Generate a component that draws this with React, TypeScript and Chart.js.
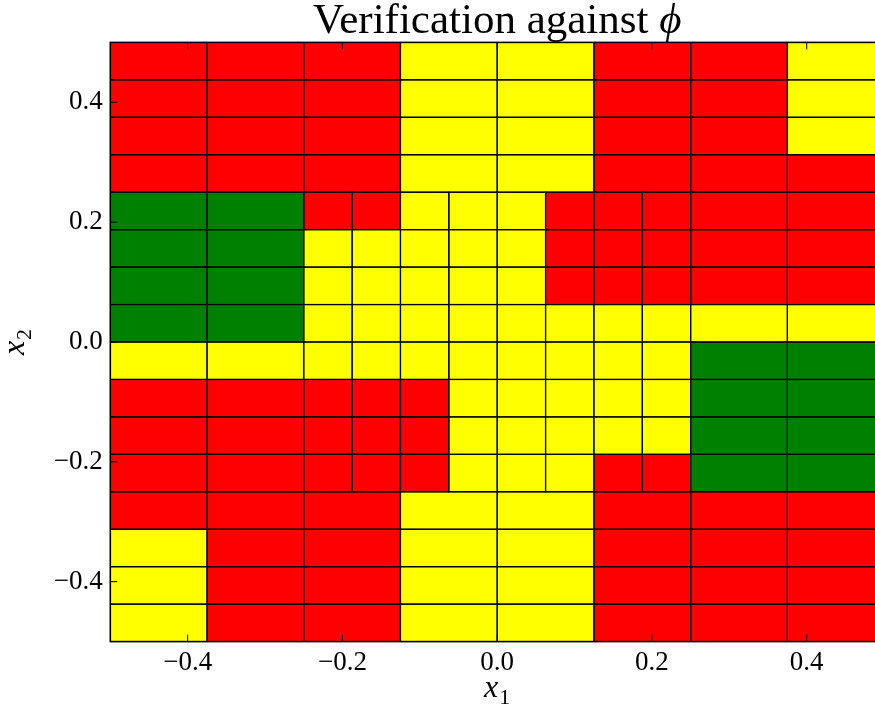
import { useEffect, useRef } from 'react';
import { Chart, registerables } from 'chart.js';

Chart.register(...registerables);

// Domain of the verification grid
const X_MIN = -0.5;
const X_MAX = 0.5;
const Y_MIN = -0.5;
const Y_MAX = 0.5;
const TICK_VALUES = [-0.4, -0.2, 0.0, 0.2, 0.4];

const TITLE_TEXT = 'Verification against ';
const TITLE_SYMBOL = '\u03D5';
const X_LABEL = ['x', '1'];
const Y_LABEL = ['x', '2'];

// Rows of the partition, from x2 = 0.5 down to x2 = -0.5; each row is 1/16 tall.
// Upper-case letters are cells 1/8 wide, lower-case letters are cells 1/16 wide.
// R = property violated, Y = undecided, G = verified.
const ROW_PATTERNS = [
  'RRRYYRRY',
  'RRRYYRRY',
  'RRRYYRRY',
  'RRRYYRRR',
  'GGrryyyrrrRR',
  'GGyyyyyrrrRR',
  'GGyyyyyrrrRR',
  'GGyyyyyyyyYY',
  'YYyyyyyyyyGG',
  'RRrrryyyyyGG',
  'RRrrryyyyyGG',
  'RRrrryyyrrGG',
  'RRRYYRRR',
  'YRRYYRRR',
  'YRRYYRRR',
  'YRRYYRRR',
];
const WIDE_CELL = 1 / 8;
const NARROW_CELL = 1 / 16;
const ROW_HEIGHT = 1 / 16;
const CELL_COLORS: Record<string, string> = { R: '#ff0000', Y: '#ffff00', G: '#008000' };

type Cell = { x0: number; x1: number; y0: number; y1: number; color: string };

function buildCells(): Cell[] {
  const cells: Cell[] = [];
  ROW_PATTERNS.forEach((row, i) => {
    const y1 = Y_MAX - i * ROW_HEIGHT;
    const y0 = y1 - ROW_HEIGHT;
    let x = X_MIN;
    for (const ch of row) {
      const w = ch === ch.toUpperCase() ? WIDE_CELL : NARROW_CELL;
      cells.push({ x0: x, x1: x + w, y0, y1, color: CELL_COLORS[ch.toUpperCase()] });
      x += w;
    }
  });
  return cells;
}

const SERIF = '"Liberation Serif", "Times New Roman", serif';
const TICK_FONT_SIZE = 27;
const TITLE_FONT_SIZE = 43;

const fmtTick = (v: number | string) => {
  const n = Number(v);
  const s = Math.abs(n).toFixed(1);
  return n < -1e-9 ? '\u2212' + s : s;
};

const gridPlugin = {
  id: 'verificationGrid',
  beforeDatasetsDraw(chart: any) {
    const { ctx, chartArea, scales } = chart;
    const xs = scales.x;
    const ys = scales.y;
    const cells = buildCells();
    ctx.save();
    ctx.beginPath();
    ctx.rect(chartArea.left, chartArea.top, chartArea.right - chartArea.left, chartArea.bottom - chartArea.top);
    ctx.clip();
    const rects = cells.map((c) => {
      const l = xs.getPixelForValue(c.x0);
      const r = xs.getPixelForValue(c.x1);
      const t = ys.getPixelForValue(c.y1);
      const b = ys.getPixelForValue(c.y0);
      return { l, r, t, b, color: c.color };
    });
    for (const q of rects) {
      ctx.fillStyle = q.color;
      ctx.fillRect(q.l, q.t, q.r - q.l, q.b - q.t);
    }
    ctx.strokeStyle = '#000';
    ctx.lineWidth = 1.2;
    for (const q of rects) {
      ctx.strokeRect(q.l, q.t, q.r - q.l, q.b - q.t);
    }
    ctx.restore();
  },
  afterDatasetsDraw(chart: any) {
    const { ctx, chartArea, scales } = chart;
    const { left, right, top, bottom } = chartArea;
    const tickLen = 7;
    ctx.save();
    ctx.strokeStyle = '#000';
    ctx.lineWidth = 1;
    ctx.beginPath();
    for (const v of TICK_VALUES) {
      const px = scales.x.getPixelForValue(v);
      ctx.moveTo(px, bottom);
      ctx.lineTo(px, bottom - tickLen);
      ctx.moveTo(px, top);
      ctx.lineTo(px, top + tickLen);
      const py = scales.y.getPixelForValue(v);
      ctx.moveTo(left, py);
      ctx.lineTo(left + tickLen, py);
      ctx.moveTo(right, py);
      ctx.lineTo(right - tickLen, py);
    }
    ctx.stroke();
    ctx.lineWidth = 1.6;
    ctx.strokeRect(left, top, right - left, bottom - top);
    ctx.restore();
  },
  afterDraw(chart: any) {
    const { ctx, chartArea } = chart;
    const cx = (chartArea.left + chartArea.right) / 2;
    ctx.save();
    ctx.fillStyle = '#000';
    ctx.textBaseline = 'alphabetic';
    ctx.textAlign = 'left';

    // Title: plain text followed by an italic symbol
    ctx.font = `${TITLE_FONT_SIZE}px ${SERIF}`;
    const w1 = ctx.measureText(TITLE_TEXT).width;
    ctx.font = `italic ${TITLE_FONT_SIZE}px ${SERIF}`;
    const w2 = ctx.measureText(TITLE_SYMBOL).width;
    const tx = cx - (w1 + w2) / 2;
    ctx.font = `${TITLE_FONT_SIZE}px ${SERIF}`;
    ctx.fillText(TITLE_TEXT, tx, 33);
    ctx.font = `italic ${TITLE_FONT_SIZE}px ${SERIF}`;
    ctx.fillText(TITLE_SYMBOL, tx + w1, 33);

    // Axis label with subscript, centred on (0, 0) in the current transform
    const drawSub = (main: string, sub: string) => {
      ctx.font = `italic 32px ${SERIF}`;
      const mw = ctx.measureText(main).width;
      ctx.font = `22px ${SERIF}`;
      const sw = ctx.measureText(sub).width;
      const start = -(mw + sw + 1) / 2;
      ctx.font = `italic 32px ${SERIF}`;
      ctx.fillText(main, start, 0);
      ctx.font = `22px ${SERIF}`;
      ctx.fillText(sub, start + mw + 1, 7);
    };

    ctx.save();
    ctx.translate(cx, 697);
    drawSub(X_LABEL[0], X_LABEL[1]);
    ctx.restore();

    ctx.save();
    ctx.translate(24, (chartArea.top + chartArea.bottom) / 2);
    ctx.rotate(-Math.PI / 2);
    drawSub(Y_LABEL[0], Y_LABEL[1]);
    ctx.restore();

    ctx.restore();
  },
};

export default function App() {
  const canvasRef = useRef<HTMLCanvasElement | null>(null);

  useEffect(() => {
    const canvas = canvasRef.current;
    if (!canvas) return;
    const chart = new Chart(canvas, {
      type: 'scatter',
      data: { datasets: [{ data: [], pointRadius: 0 }] },
      options: {
        animation: false,
        responsive: false,
        devicePixelRatio: 1,
        events: [],
        layout: { padding: { left: 0, top: 42.4, right: 15.9, bottom: 0 } },
        plugins: { legend: { display: false }, title: { display: false }, tooltip: { enabled: false } },
        scales: {
          x: {
            type: 'linear',
            min: X_MIN,
            max: X_MAX,
            afterBuildTicks: (s: any) => {
              s.ticks = TICK_VALUES.map((v) => ({ value: v }));
            },
            afterFit: (s: any) => {
              s.height = 69.4;
            },
            grid: { display: false, drawTicks: false },
            border: { display: false },
            ticks: {
              font: { family: SERIF, size: TICK_FONT_SIZE },
              color: '#000',
              padding: 5,
              maxRotation: 0,
              autoSkip: false,
              callback: fmtTick,
            },
          },
          y: {
            type: 'linear',
            min: Y_MIN,
            max: Y_MAX,
            afterBuildTicks: (s: any) => {
              s.ticks = TICK_VALUES.map((v) => ({ value: v }));
            },
            afterFit: (s: any) => {
              s.width = 110.3;
            },
            grid: { display: false, drawTicks: false },
            border: { display: false },
            ticks: {
              font: { family: SERIF, size: TICK_FONT_SIZE },
              color: '#000',
              padding: 7.5,
              autoSkip: false,
              callback: fmtTick,
            },
          },
        },
      },
      plugins: [gridPlugin],
    });
    return () => chart.destroy();
  }, []);

  return (
    <div
      style={{
        position: 'fixed',
        left: 0,
        top: 0,
        width: 875,
        height: 711,
        overflow: 'hidden',
        background: '#fff',
      }}
    >
      <canvas ref={canvasRef} width={900} height={711} style={{ display: 'block' }} />
    </div>
  );
}
